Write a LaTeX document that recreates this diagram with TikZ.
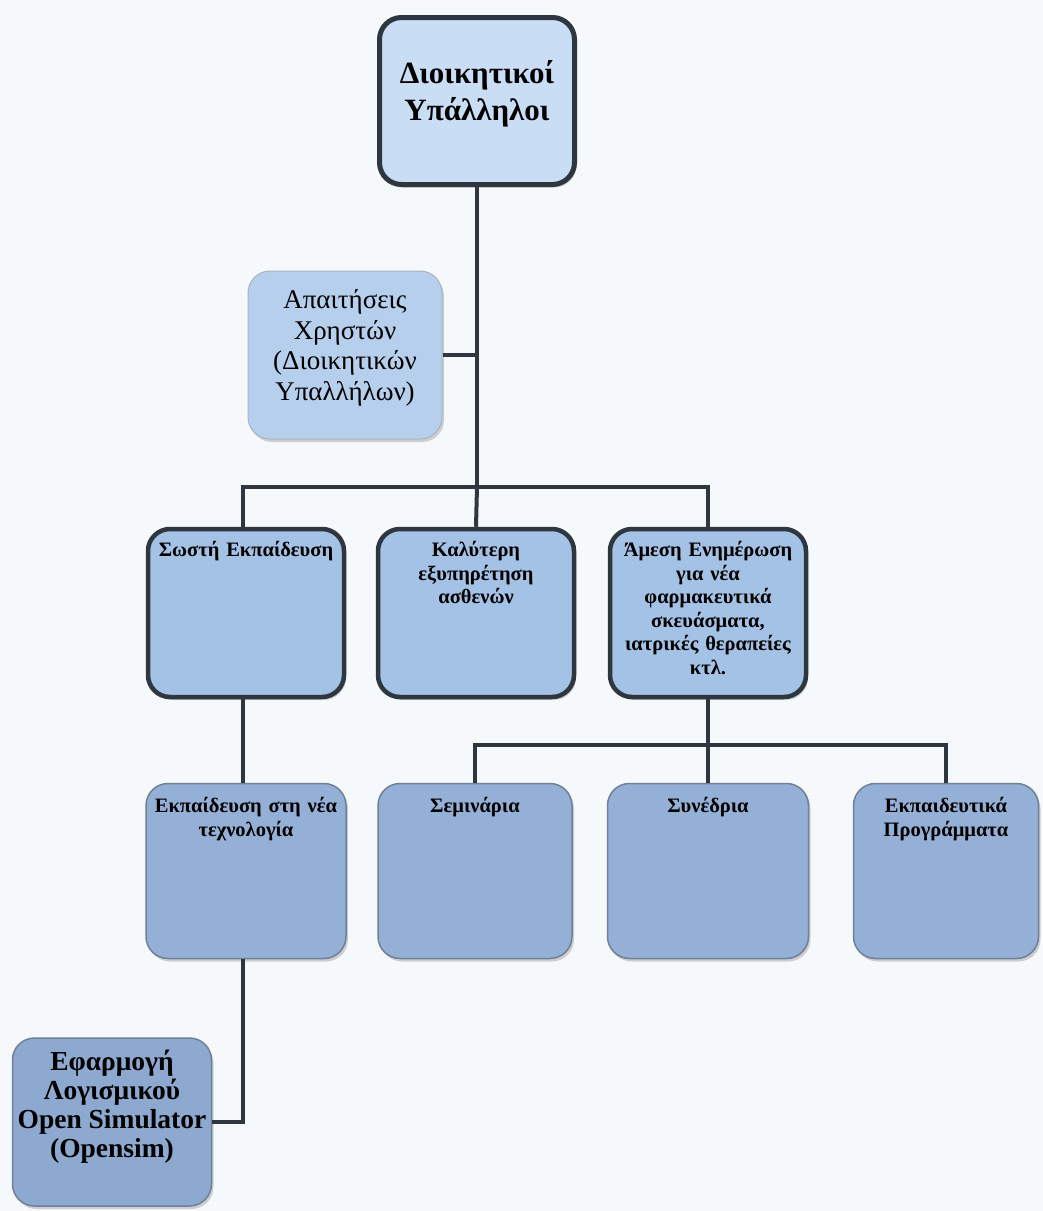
\documentclass[tikz,border=0pt]{standalone}
\usepackage{fontspec}
\setmainfont{Liberation Serif}
\usepackage{tikz}
\usetikzlibrary{positioning, shadows}
\definecolor{mylinegrey}{RGB}{46, 54, 64}
\definecolor{myedgegrey}{RGB}{112, 128, 150}
\definecolor{mytopblue}{RGB}{201, 222, 244}
\definecolor{myreqblue}{RGB}{181, 207, 237}
\definecolor{mymidblue}{RGB}{164, 194, 229}
\definecolor{mylowblue}{RGB}{148, 176, 214}
\definecolor{myappblue}{RGB}{142, 169, 207}
\definecolor{mybackground}{RGB}{246, 249, 252}

\begin{document}
\begin{tikzpicture}[x = 1pt, y = -1pt,
  box/.style = {rounded corners = 22pt, drop shadow = {opacity = 0.35, shadow xshift = 2pt, shadow yshift = -3pt}},
  headbox/.style = {box, draw = mylinegrey, line width = 5pt, fill = mytopblue, minimum width = 195pt, minimum height = 167pt, align = center, text depth = 22pt, font = \fontsize{31}{37}\selectfont\bfseries},
  reqbox/.style = {box, draw = myedgegrey!60, line width = 1pt, fill = myreqblue, minimum width = 194pt, minimum height = 168pt, align = center, text depth = 20pt, font = \fontsize{27}{30.5}\selectfont},
  goalbox/.style = {box, draw = mylinegrey, line width = 4.5pt, fill = mymidblue, minimum width = 196pt, minimum height = 168pt},
  waybox/.style = {box, draw = myedgegrey, line width = 1.5pt, fill = mylowblue, minimum height = 175pt},
  appbox/.style = {box, draw = myedgegrey, line width = 1.5pt, fill = myappblue, minimum width = 199pt, minimum height = 168pt, align = center, text depth = 36pt, font = \fontsize{27.5}{29}\selectfont\bfseries},
  boxtext/.style = {anchor = north, align = center, text width = 195pt, font = \fontsize{20.5}{23.6}\selectfont\bfseries},
  link/.style = {draw = mylinegrey, line width = 4pt}]

  % background
  \fill [mybackground] (0, 0) rectangle (1043, 1211);
  \useasboundingbox (0, 0) rectangle (1043, 1211);

  % nodes
  \node [headbox] (admin-staff) at (477, 101) {Διοικητικοί\\Υπάλληλοι};
  \node [reqbox] (user-req) at (345, 355) {Απαιτήσεις\\Χρηστών\\(Διοικητικών\\Υπαλλήλων)};

  \node [goalbox] (training) at (246, 613) {};
  \node [goalbox] (patient-care) at (476, 613) {};
  \node [goalbox] (news) at (708, 613) {};

  \node [waybox, minimum width = 200pt] (new-tech) at (246, 871) {};
  \node [waybox, minimum width = 194pt] (seminars) at (475, 871) {};
  \node [waybox, minimum width = 201pt] (conferences) at (708, 871) {};
  \node [waybox, minimum width = 185pt] (programmes) at (946, 871) {};

  \node [appbox] (opensim) at (112, 1122) {Εφαρμογή\\Λογισμικού\\Open Simulator\\(Opensim)};

  % texts at the top of the boxes
  \node [boxtext] at ([yshift = -11pt] training.north) {Σωστή Εκπαίδευση};
  \node [boxtext] at ([yshift = -11pt] patient-care.north) {Καλύτερη\\εξυπηρέτηση\\ασθενών};
  \node [boxtext] at ([yshift = -11pt] news.north) {Άμεση Ενημέρωση\\για νέα\\φαρμακευτικά\\σκευάσματα,\\ιατρικές θεραπείες\\κτλ.};
  \node [boxtext] at ([yshift = -11pt] new-tech.north) {Εκπαίδευση στη νέα\\τεχνολογία};
  \node [boxtext] at ([yshift = -11pt] seminars.north) {Σεμινάρια};
  \node [boxtext] at ([yshift = -11pt] conferences.north) {Συνέδρια};
  \node [boxtext] at ([yshift = -11pt] programmes.north) {Εκπαιδευτικά\\Προγράμματα};

  \coordinate (split-goals) at (477, 487);
  \coordinate (split-ways) at (708, 745);

  % edges
  \path [link] (admin-staff.south) -- (split-goals);
  \path [link] (user-req.east) -- (user-req.east -| admin-staff.south);
  \path [link] ([xshift = -3pt] training.north) |- (split-goals) -| (news.north);
  \path [link] (split-goals) -- (patient-care.north);

  \path [link] ([xshift = -3pt] training.south) -- ([xshift = -3pt] new-tech.north);
  \path [link] (news.south) -- (split-ways);
  \path [link] (seminars.north) |- (split-ways) -| (programmes.north);
  \path [link] (split-ways) -- (conferences.north);

  \path [link] ([xshift = -3pt] new-tech.south) |- (opensim.east);

\end{tikzpicture}
\end{document}
